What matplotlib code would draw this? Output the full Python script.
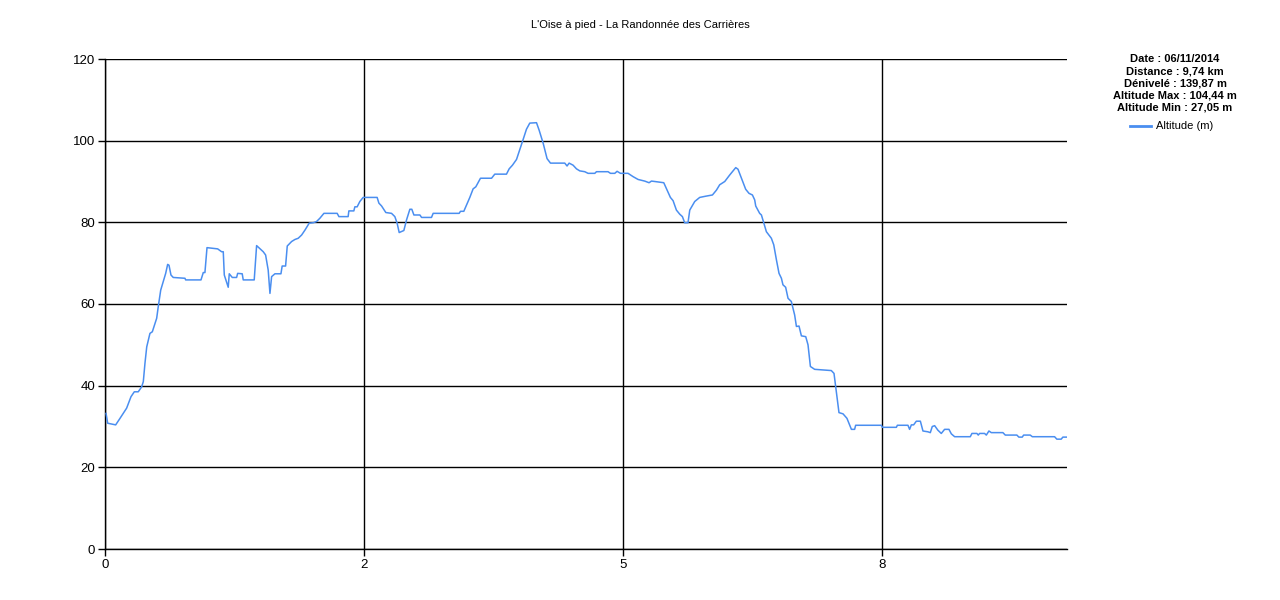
import matplotlib
matplotlib.use("Agg")
import matplotlib.pyplot as plt
from matplotlib.lines import Line2D

plt.rcParams['font.family'] = ['Liberation Sans', 'DejaVu Sans']

title = "L'Oise à pied - La Randonnée des Carrières"
info_lines = ["Date : 06/11/2014", "Distance : 9,74 km", "Dénivelé : 139,87 m",
              "Altitude Max : 104,44 m", "Altitude Min : 27,05 m"]
series_label = "Altitude (m)"

distance_km = [0.010, 0.026, 0.103, 0.145, 0.209, 0.251, 0.283, 0.321, 0.354, 0.370,
               0.386, 0.403, 0.434, 0.457, 0.499, 0.514, 0.538, 0.586, 0.605, 0.618,
               0.637, 0.659, 0.772, 0.779, 0.927, 0.949, 0.965, 0.985, 1.088, 1.126,
               1.142, 1.152, 1.190, 1.200, 1.229, 1.271, 1.281, 1.325, 1.335, 1.441,
               1.464, 1.528, 1.551, 1.576, 1.593, 1.609, 1.641, 1.699, 1.711, 1.744,
               1.760, 1.802, 1.834, 1.866, 1.899, 1.931, 1.972, 2.011, 2.043, 2.075,
               2.114, 2.242, 2.259, 2.348, 2.355, 2.403, 2.413, 2.435, 2.461, 2.493,
               2.628, 2.645, 2.671, 2.712, 2.767, 2.799, 2.821, 2.841, 2.886, 2.912,
               2.944, 2.963, 2.983, 3.041, 3.057, 3.153, 3.169, 3.420, 3.433, 3.465,
               3.491, 3.523, 3.555, 3.581, 3.626, 3.733, 3.764, 3.877, 3.903, 3.935,
               3.974, 3.999, 4.038, 4.070, 4.102, 4.167, 4.192, 4.231, 4.269, 4.302,
               4.440, 4.462, 4.482, 4.520, 4.553, 4.585, 4.633, 4.665, 4.730, 4.746,
               4.858, 4.881, 4.923, 4.945, 4.978, 5.051, 5.099, 5.148, 5.212, 5.254,
               5.277, 5.309, 5.396, 5.428, 5.460, 5.486, 5.518, 5.550, 5.576, 5.598,
               5.630, 5.647, 5.695, 5.743, 5.801, 5.866, 5.905, 5.936, 5.985, 6.033,
               6.071, 6.091, 6.113, 6.146, 6.187, 6.219, 6.252, 6.274, 6.284, 6.322,
               6.339, 6.361, 6.387, 6.435, 6.458, 6.484, 6.509, 6.532, 6.547, 6.573,
               6.596, 6.628, 6.660, 6.677, 6.702, 6.725, 6.767, 6.789, 6.812, 6.853,
               7.014, 7.040, 7.063, 7.088, 7.127, 7.165, 7.208, 7.239, 7.249, 7.497,
               7.507, 7.642, 7.652, 7.754, 7.770, 7.787, 7.809, 7.835, 7.874, 7.899,
               7.947, 7.970, 7.989, 8.012, 8.043, 8.076, 8.108, 8.150, 8.173, 8.205,
               8.356, 8.372, 8.420, 8.433, 8.446, 8.494, 8.511, 8.536, 8.559, 8.671,
               8.694, 8.806, 8.825, 8.858, 8.871, 8.935, 8.955, 9.170, 9.192, 9.234,
               9.250, 9.295]

altitude_m = [33.2, 30.8, 30.4, 32.0, 34.5, 37.3, 38.5, 38.5, 39.7, 41.0,
              45.5, 49.5, 52.8, 53.2, 56.5, 59.3, 63.4, 67.5, 69.7, 69.5,
              67.1, 66.5, 66.3, 65.9, 65.9, 67.7, 67.7, 73.8, 73.5, 72.8,
              72.8, 67.1, 64.1, 67.4, 66.5, 66.5, 67.5, 67.4, 65.9, 65.9,
              74.3, 72.8, 72.0, 68.3, 62.6, 66.7, 67.4, 67.4, 69.3, 69.3,
              74.2, 75.3, 75.8, 76.1, 76.9, 78.1, 79.8, 79.9, 80.2, 81.0,
              82.2, 82.2, 81.4, 81.4, 82.8, 82.8, 83.8, 83.8, 85.1, 86.1,
              86.1, 84.7, 84.0, 82.4, 82.2, 81.4, 79.8, 77.5, 78.0, 80.6,
              83.2, 83.2, 81.8, 81.8, 81.2, 81.2, 82.2, 82.2, 82.7, 82.7,
              84.2, 86.1, 88.2, 88.7, 90.8, 90.8, 91.8, 91.8, 93.1, 94.0,
              95.4, 97.3, 100.3, 102.8, 104.3, 104.4, 102.6, 99.4, 95.6, 94.5,
              94.5, 93.8, 94.5, 94.0, 93.1, 92.6, 92.4, 92.0, 92.0, 92.4,
              92.4, 92.0, 92.0, 92.5, 92.0, 92.0, 91.2, 90.5, 90.1, 89.7,
              90.1, 90.0, 89.7, 87.9, 86.1, 85.3, 83.0, 82.0, 81.4, 79.9,
              79.9, 83.0, 85.1, 86.1, 86.4, 86.7, 87.9, 89.2, 90.0, 91.6,
              92.8, 93.4, 93.0, 90.8, 88.1, 87.1, 86.7, 85.5, 84.0, 82.2,
              81.8, 79.9, 77.7, 76.1, 74.5, 70.8, 67.5, 66.3, 64.7, 64.1,
              61.4, 60.6, 57.3, 54.5, 54.6, 52.2, 52.0, 50.0, 44.7, 44.0,
              43.7, 43.0, 38.5, 33.4, 33.1, 32.0, 29.3, 29.3, 30.3, 30.3,
              29.8, 29.8, 30.3, 30.3, 29.3, 30.4, 30.4, 31.3, 31.3, 28.9,
              28.7, 28.5, 30.0, 30.2, 29.1, 28.3, 29.3, 29.3, 28.2, 27.5,
              27.5, 28.3, 28.3, 27.9, 28.3, 28.3, 27.9, 28.9, 28.5, 28.5,
              27.9, 27.9, 27.4, 27.4, 27.9, 27.9, 27.5, 27.5, 26.9, 26.9,
              27.4, 27.4]

x_ticks = [0, 2.5, 5, 7.5]
x_tick_labels = ["0", "2", "5", "8"]
y_ticks = [0, 20, 40, 60, 80, 100, 120]

fig = plt.figure(figsize=(12.8, 6), dpi=100)
ax = fig.add_axes([105/1280, 51/600, (1067-105)/1280, (549-59)/600])

line_color = "#4a8ef0"
ax.plot(distance_km, altitude_m, color=line_color, lw=1.1, zorder=3)

ax.set_xlim(0, 9.29)
ax.set_ylim(0, 120)
ax.set_xticks(x_ticks)
ax.set_xticklabels(x_tick_labels)
ax.set_yticks(y_ticks)
ax.grid(True, color="black", lw=1)
for s in ["top", "right"]:
    ax.spines[s].set_visible(False)
for s in ["left", "bottom"]:
    ax.spines[s].set_linewidth(1)
ax.tick_params(direction="out", length=5, width=1, labelsize=9.5, pad=2, colors="black")

fig.text(640/1280, 1 - 25/600, title, ha="center", va="center", fontsize=8)

ys = [59, 72, 84, 96, 108]
for t, y in zip(info_lines, ys):
    fig.text(1175/1280, 1 - y/600, t, ha="center", va="center", fontsize=8,
             fontweight="bold", fontstretch="condensed")

fig.add_artist(Line2D([1130/1280, 1151/1280], [1 - 126/600, 1 - 126/600],
                      color=line_color, lw=2, transform=fig.transFigure))
fig.text(1156/1280, 1 - 126/600, series_label, ha="left", va="center", fontsize=8)

fig.savefig("out.png", dpi=100)
